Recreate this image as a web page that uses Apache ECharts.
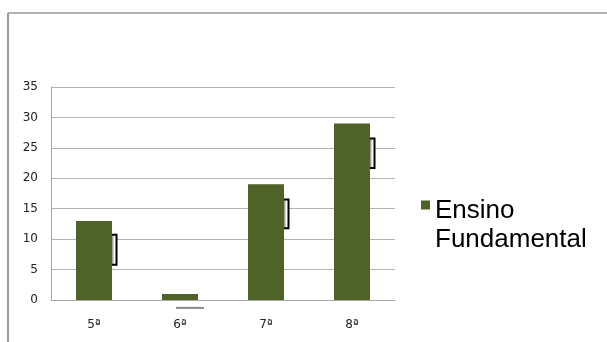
<!DOCTYPE html>
<html>
<head>
<meta charset="utf-8">
<script src="https://cdn.jsdelivr.net/npm/echarts@6/dist/echarts.min.js"></script>
<style>
html,body{margin:0;padding:0;background:#fff;}
#c{width:607px;height:342px;}
</style>
</head>
<body>
<div id="c"></div>
<script>
var categories = ['5ª', '6ª', '7ª', '8ª'];
var values = [13, 1, 19, 29];
var seriesName = 'Ensino Fundamental';
var shadowTop = [10.8, -1.3, 16.6, 26.6];
var shadowBottom = [5.8, -6, 11.8, 21.7];
var yTicks = [0, 5, 10, 15, 20, 25, 30, 35];

var shadowData = categories.map(function (c, i) { return [i, shadowTop[i], shadowBottom[i]]; });

var chart = echarts.init(document.getElementById('c'), null, {renderer: 'canvas'});
var BAR_W = 36;
chart.setOption({
  animation: false,
  backgroundColor: '#fff',
  textStyle: {fontFamily: 'DejaVu Sans'},
  grid: {left: 51, right: 212, top: 87, bottom: 42, containLabel: false},
  graphic: [
    {type: 'line', shape: {x1: 8, y1: 13, x2: 607, y2: 13}, style: {stroke: '#999', lineWidth: 1.5}},
    {type: 'line', shape: {x1: 8, y1: 13, x2: 8, y2: 342}, style: {stroke: '#999', lineWidth: 2}}
  ],
  legend: {
    orient: 'vertical',
    left: 416,
    top: 166,
    itemWidth: 9,
    itemHeight: 9,
    itemGap: 0,
    icon: 'rect',
    data: [{name: seriesName, icon: 'rect'}],
    formatter: function () { return '{s| }\n{a|Ensino}\n{a|Fundamental}'; },
    textStyle: {
      color: '#000',
      rich: {
        s: {fontSize: 10, lineHeight: 40},
        a: {fontSize: 26, lineHeight: 29, color: '#000', fontFamily: 'Liberation Sans'}
      }
    }
  },
  xAxis: {
    type: 'category',
    data: categories,
    axisLine: {show: true, lineStyle: {color: '#a6a6a6', width: 1}},
    axisTick: {show: false},
    axisLabel: {fontSize: 12, color: '#222', margin: 19, fontFamily: 'DejaVu Sans'},
    splitLine: {show: false}
  },
  yAxis: {
    type: 'value',
    min: 0, max: 35, interval: 5,
    axisLine: {show: true, lineStyle: {color: '#a6a6a6', width: 1}},
    axisTick: {show: false},
    axisLabel: {fontSize: 12, color: '#222', margin: 13, fontFamily: 'DejaVu Sans',
      formatter: function (v) { return yTicks.indexOf(v) >= 0 ? String(v) : ''; }},
    splitLine: {show: true, lineStyle: {color: '#b3b3b3', width: 1}}
  },
  series: [
    {
      name: seriesName,
      type: 'bar',
      data: values,
      barWidth: BAR_W,
      itemStyle: {color: '#4f6228'},
      z: 3
    },
    {
      type: 'custom',
      clip: false,
      silent: true,
      z: 2,
      data: shadowData,
      encode: {x: 0, y: [1, 2]},
      renderItem: function (params, api) {
        var idx = api.value(0);
        var top = api.coord([idx, api.value(1)]);
        var bot = api.coord([idx, api.value(2)]);
        var right = top[0] + BAR_W / 2;
        if (api.value(1) < 0) {
          return {type: 'line', shape: {x1: top[0] - 4, y1: top[1], x2: right + 6, y2: top[1]},
            style: {stroke: '#8c8c8c', lineWidth: 2}};
        }
        return {type: 'group', children: [
          {type: 'rect', shape: {x: right, y: top[1], width: 5, height: bot[1] - top[1]},
            style: {fill: new echarts.graphic.LinearGradient(0, 0, 1, 0, [{offset: 0, color: '#8a8a8a'}, {offset: 0.5, color: '#ffffff'}, {offset: 1, color: '#ffffff'}])}},
          {type: 'polyline', shape: {points: [[right, top[1] + 0.5], [right + 4.5, top[1] + 0.5], [right + 4.5, bot[1]], [right, bot[1]]]},
            style: {stroke: '#000', lineWidth: 2, fill: null}}
        ]};
      }
    }
  ]
});
</script>
</body>
</html>
